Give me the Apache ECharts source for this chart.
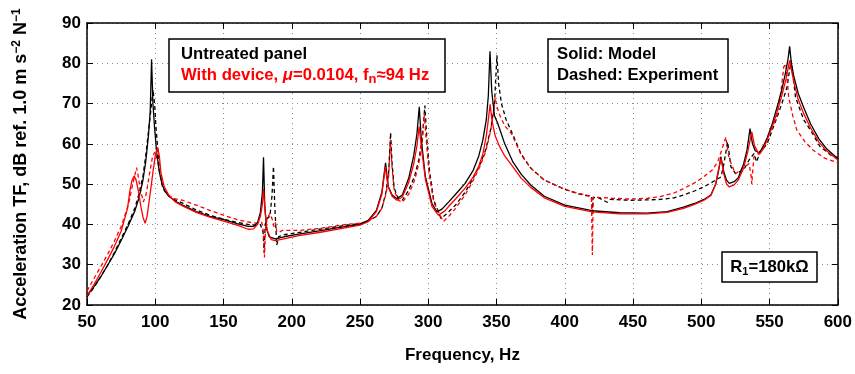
<!DOCTYPE html>
<html><head><meta charset="utf-8">
<script src="https://cdn.jsdelivr.net/npm/echarts@6/dist/echarts.min.js"></script>
<style>html,body{margin:0;padding:0;background:#fff}#c{width:855px;height:374px}</style>
</head><body><div id="c"></div>
<script>
// ---- data (Hz, dB) ----
const modelUntreatedHz = [50,55,60,65,70,75,80,85,88,91,93,95,96.3,97.3,98.3,99.5,101,103,105,107,110,115,120,130,140,150,160,168,172,175,177,178.5,179.3,180.2,181.5,183.5,188,195,205,220,240,250,256,262,266,268.7,270.6,273.5,277,281,285.7,289.3,291.7,293.4,294.9,297.8,302.7,306.3,310,315,320,327,333,337,340,342.5,344,345.2,346.5,348.5,351,356,362,368,375,385,400,420,440,460,475,487,495,502,507,510.5,512.5,514.3,516.5,518.5,520.5,524,527,531,533.5,535.7,537.5,539.5,542.3,545,548.3,552,555.6,559,561.6,563.5,564.7,566,567.6,571,575,580,586,592,600];
const modelUntreatedDb = [22.3,24.5,27,29.8,32.7,36,39.5,43.3,46.5,51,55.5,62,68,81,70,64,58,53,50,48.3,47,45.7,44.8,43.2,42,41.2,40.2,39.5,39.5,40.5,43,48,56.7,45,39,36.9,36.4,37,37.6,38.4,39.5,40,41,43.5,48,55.3,49.5,47.3,46.4,47.3,51.5,57,62.5,69.2,61,52,45.2,43.1,43.8,45.6,47.5,50.2,53.5,57,61,66,72,83,73,67,65,60,55.5,52.5,49.8,47,44.8,43.4,42.9,42.8,43.2,44.3,45.2,46.2,47.3,50,53,56.8,53,51,50.2,50.6,51.5,55,58.5,63.8,60,58.3,57.8,59,61.5,65,69.2,73.5,77.5,81,84.2,80,77,72.5,69,65,61.3,58.7,56.3];

const modelDeviceHz = [50,55,60,65,70,75,79.7,81.5,83,84.6,86,87.5,89.5,91,92.6,94,95.6,97,98.5,100,101.7,103,104.1,106.5,110,115,120,130,140,150,160,168,172,175,177,178.5,179.3,180.5,182,185,188,195,205,220,240,250,256,262,266,268.5,270.5,273.5,277,281,285.7,289.3,291.7,293.3,295,298,302.7,307.3,312,315,320,327,333,337,340,342.5,344,345.3,346.8,349,352,356,362,368,375,385,400,420,440,460,475,487,495,502,507,510.5,512.5,514.5,516.5,518.5,520.5,524,527,531,534,537,539,542.3,545,548.3,552,555.6,559,562,564.7,566.5,568,571,575,580,586,592,600];
const modelDeviceDb = [22.3,25,28,31.2,34.5,38.3,44,48.5,51,52,51,48.5,44.4,41.8,40.3,42,46,49.5,53.5,57,59.1,57,53,49.4,47.2,45.5,44.6,43,41.8,40.8,39.8,38.8,38.9,40,42,45,48.8,43,38.5,36.2,36,36.5,37.2,38,39.2,39.8,40.7,43.2,47.5,54.3,49.5,47,46,46.8,50.5,55,59.5,64.3,59,51,44.5,42.3,43.3,44.5,46.3,49,51.8,54.5,57.5,62,66,69.8,65.5,62,59.5,57,54.3,51.5,49.2,46.6,44.5,43.1,42.6,42.6,43,44,45,46,47.2,50,53.5,56.4,52.5,50,49.3,49.8,51,54,58,63,59.5,57.4,58.5,61,64.3,68,72,76,80.7,77.5,75,71,67.5,64,60.5,58.2,56];

const expUntreatedHz = [50,55,60,65,70,75,80,85,88,91,93,95,97,98.3,99.5,100.5,102.9,104.5,106.5,110,115,120,130,140,150,160,168,174,177,179,179.8,180.5,182,184,185.5,186.6,187.5,189,190.5,195,205,220,240,250,256,262,266,269,271,272.4,273.5,275,278,281,285.7,290,293,295.5,297.5,299,301,304,309.3,313,320,327,333,338,342,346,348.5,350.3,351.5,353.6,357,361,368,375,385,400,410,419.5,420.2,420.8,425,431,433,448,461,470,480,487,495,501.7,508,514.5,516.5,519.3,521.7,525,531,535,538.6,540.5,542.5,548.3,555.6,560,562.8,565.7,567.5,569,575,580,587,595,600];
const expUntreatedDb = [22,24.3,27,29.8,33,36.5,40,44,47.5,52,57,63,69,73.5,70,64.3,54.3,50.5,48.5,47,46,45.3,43.6,42.3,41.3,40.5,40,39.8,40,38,33,40,41.5,42,47,54.4,45,34.9,37,37.5,38,38.8,39.8,40.2,40.8,42,44,48,53,62.8,55,49,46.5,46,48.5,52,56,61,69.5,61,53,46,41.5,42.5,44.8,48,51.5,55,58.5,64,70,82,75,70,66,63,57.5,54,51,48.7,47.6,46.9,43,46.7,46.6,45.5,46.2,46,46.1,46.2,46.6,47.3,48.3,49.3,50.5,51.8,55,60.5,54.3,52.6,53.5,56,57.6,55.5,57.5,60.1,66.7,71,74.1,80.7,76,71.6,66,63.4,59.3,57.2,56.6];

const expDeviceHz = [50,55,60,65,70,75,79,81,83.5,86.3,87.5,88.7,91.2,93,94.3,96,98,99.7,101.7,103.5,105.3,108,112.6,120,130,140,150,160,168,174,178,179.3,180,180.8,182,184,186,187,188,189,190.5,193,197,205,220,240,250,256,262,266,269,271,272.2,273.5,275,278,281,285.7,290,293,295.5,297,298.5,300.5,304,311,315,320,327,333,338,342,345.5,347.5,349,350.5,352.5,356,361,368,375,385,400,410,419.5,420.2,420.8,425,435,448,461,470,480,487,495,501.7,508,512,515,518,520,522,525,531,535,536.5,537,537.8,538.6,542,548,555,558,560.4,562,564,567,570,576,582,590,600];
const expDeviceDb = [23.5,26.5,29.5,32.5,35.8,39.5,43.5,46,50,54.1,52,49.4,45.6,47,49.4,53,56.8,58,56,52.5,49.4,47.8,46.5,46,44.8,43.5,42.3,41.2,40.6,40.3,40.5,38,31.8,39,41.5,42.7,41,39.4,40.5,38.2,38,38.5,38.5,38.5,39,40,40.3,40.9,42,44,47.5,52,61,54,48.5,46,45.5,47.5,51,55,60,67.5,61,53,45.5,40.7,42,44,47.3,51,54.5,58,63,67,71.5,69,67,64.5,62.5,57.3,54,51,48.7,47.7,47,32.4,46.8,46.7,46.5,46.3,46.5,46.9,47.8,48.9,50.3,51.8,53.5,55.5,58.5,61.7,57,55,52.6,54,55.1,52,50,54,56.8,57.6,61,66.5,72,79.1,79.9,71.6,67,63.4,60.5,58.4,56.5,55.3];

const xTickValues = [50,100,150,200,250,300,350,400,450,500,550,600];
const yTickValues = [20,30,40,50,60,70,80,90];

function pairs(xs, ys){ return xs.map((x,i)=>[x, ys[i]]); }

const FONT = 'Liberation Sans';
const chart = echarts.init(document.getElementById('c'), null, {renderer:'canvas'});

const line = (name, xs, ys, color, dashed) => ({
  name, type:'line', data: pairs(xs, ys), showSymbol:false, symbol:'none',
  lineStyle:{color, width:1.3, type: dashed ? [4,3] : 'solid'}, animation:false, z: dashed ? 2 : 3
});

chart.setOption({
  animation:false,
  backgroundColor:'#fff',
  grid:{left:87, right:15, top:23, bottom:69, show:false},
  xAxis:[{
    type:'value', min:50, max:600, interval:50,
    axisLine:{show:true, onZero:false, lineStyle:{color:'#000', width:1.5}},
    axisTick:{show:true, inside:true, length:6, lineStyle:{color:'#000', width:1}},
    axisLabel:{color:'#000', fontFamily:FONT, fontWeight:'bold', fontSize:17, margin:9,
      formatter: v => xTickValues.includes(v) ? String(v) : ''},
    splitLine:{show:true, lineStyle:{color:'#888', width:1, type:[1,4]}},
    name:'Frequency, Hz', nameLocation:'middle', nameGap:42,
    nameTextStyle:{color:'#000', fontFamily:FONT, fontWeight:'bold', fontSize:17}
  },{
    type:'value', position:'top', min:50, max:600, interval:50,
    axisLine:{show:true, onZero:false, lineStyle:{color:'#000', width:1.5}},
    axisTick:{show:true, inside:true, length:6, lineStyle:{color:'#000', width:1}},
    axisLabel:{show:false}, splitLine:{show:false}
  }],
  yAxis:[{
    type:'value', min:20, max:90, interval:10,
    axisLine:{show:true, onZero:false, lineStyle:{color:'#000', width:1.5}},
    axisTick:{show:true, inside:true, length:6, lineStyle:{color:'#000', width:1}},
    axisLabel:{color:'#000', fontFamily:FONT, fontWeight:'bold', fontSize:17, margin:6,
      formatter: v => yTickValues.includes(v) ? String(v) : ''},
    splitLine:{show:true, lineStyle:{color:'#888', width:1, type:[1,4]}},
    name:'{a|Acceleration TF, dB ref. 1.0 m s}{s|−2}{a| N}{s|−1}',
    nameLocation:'middle', nameGap:55, nameRotate:90,
    nameTextStyle:{color:'#000', fontFamily:FONT, fontWeight:'bold', fontSize:18,
      rich:{
        a:{fontFamily:FONT, fontWeight:'bold', fontSize:18, color:'#000', lineHeight:21},
        s:{fontFamily:FONT, fontWeight:'bold', fontSize:12, color:'#000', verticalAlign:'top', lineHeight:21}
      }}
  },{
    type:'value', position:'right', min:20, max:90, interval:10,
    axisLine:{show:true, onZero:false, lineStyle:{color:'#000', width:1.5}},
    axisTick:{show:true, inside:true, length:6, lineStyle:{color:'#000', width:1}},
    axisLabel:{show:false}, splitLine:{show:false}
  }],
  series:[
    line('Experiment untreated', expUntreatedHz, expUntreatedDb, '#000', true),
    line('Experiment device', expDeviceHz, expDeviceDb, '#ff0000', true),
    line('Model untreated', modelUntreatedHz, modelUntreatedDb, '#000', false),
    line('Model device', modelDeviceHz, modelDeviceDb, '#ff0000', false)
  ],
  graphic:[
    {type:'rect', z:10, shape:{x:169, y:39, width:276, height:53}, style:{fill:'#fff', stroke:'#000', lineWidth:1.5}},
    {type:'text', z:11, x:181, y:44, style:{
      text:'{b|Untreated panel}\n{r|With device, }{ri|μ}{r|=0.0104, f}{rs|n}{r|≈94 Hz}',
      rich:{
        b:{fontFamily:FONT, fontWeight:'bold', fontSize:16.7, fill:'#000', lineHeight:21},
        r:{fontFamily:FONT, fontWeight:'bold', fontSize:16.7, fill:'#ff0000', lineHeight:21},
        ri:{fontFamily:FONT, fontWeight:'bold', fontStyle:'italic', fontSize:16.7, fill:'#ff0000', lineHeight:21},
        rs:{fontFamily:FONT, fontWeight:'bold', fontSize:13, fill:'#ff0000', lineHeight:21, verticalAlign:'bottom', padding:[6,0,0,0]}
      }}},
    {type:'rect', z:10, shape:{x:548, y:39, width:180, height:53}, style:{fill:'#fff', stroke:'#000', lineWidth:1.5}},
    {type:'text', z:11, x:557, y:44, style:{
      text:'Solid: Model\nDashed: Experiment',
      font:'bold 16.7px "Liberation Sans"', fill:'#000', lineHeight:21}},
    {type:'rect', z:10, shape:{x:722, y:252, width:95, height:30}, style:{fill:'#fff', stroke:'#000', lineWidth:1.5}},
    {type:'text', z:11, x:769.5, y:267, style:{
      text:'{a|R}{s|1}{a|=180kΩ}', align:'center', verticalAlign:'middle',
      rich:{
        a:{fontFamily:FONT, fontWeight:'bold', fontSize:16.7, fill:'#000', lineHeight:20},
        s:{fontFamily:FONT, fontWeight:'bold', fontSize:11, fill:'#000', lineHeight:20, verticalAlign:'bottom', padding:[4,0,0,0]}
      }}}
  ]
});
</script></body></html>
